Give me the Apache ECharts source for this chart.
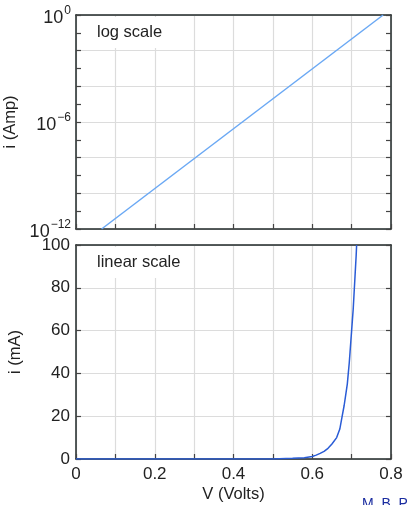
<!DOCTYPE html>
<html>
<head>
<meta charset="utf-8">
<script src="https://cdn.jsdelivr.net/npm/echarts@6/dist/echarts.min.js"></script>
<style>
  html, body { margin: 0; padding: 0; background: #fff; }
  #chart { width: 407px; height: 505px; }
</style>
</head>
<body>
<div id="chart"></div>
<script>
// top panel: log10 of current (Amp) vs voltage
const logV = [0.065, 0.78];
const logI = [-12, 0];

// bottom panel: current in mA vs voltage
const linV = [0, 0.5, 0.55, 0.58, 0.6, 0.61, 0.62, 0.63, 0.64, 0.65, 0.662, 0.67, 0.676, 0.681, 0.685, 0.689, 0.6915, 0.694, 0.696, 0.698, 0.7, 0.702, 0.704, 0.7055, 0.707, 0.7085, 0.71, 0.7115, 0.7127];
const linI = [0, 0.05, 0.3, 0.6, 1.2, 1.8, 2.6, 3.6, 5, 7, 10, 14, 20, 25, 30, 35, 40, 45, 50, 55, 60, 65, 70, 75, 80, 85, 90, 95, 100];

const logTickLabels = [0, -6, -12];
const xTickLabels = [0, 0.2, 0.4, 0.6, 0.8];

const font = 'Liberation Sans, Arial, sans-serif';
const frame = '#1f2727';
const gridColor = '#dcdcdc';

const chart = echarts.init(document.getElementById('chart'));

const tickIn = { show: true, inside: true, length: 5, lineStyle: { color: '#444', width: 1.2 } };
const line = { show: true, onZero: false, lineStyle: { color: frame, width: 1.5 } };

function xAx(gridIndex, showLabels, position) {
  return {
    type: 'value', gridIndex, min: 0, max: 0.8, interval: 0.1, position,
    axisLine: line, axisTick: position === 'top' ? { show: false } : tickIn,
    splitLine: { show: position !== 'top', lineStyle: { color: gridColor, width: 1.2 } },
    axisLabel: {
      show: showLabels, color: '#222', fontSize: 17, fontFamily: font, margin: 7,
      formatter: v => {
        const hit = xTickLabels.find(t => Math.abs(t - v) < 1e-6);
        return hit === undefined ? '' : String(hit);
      }
    },
    name: showLabels ? 'V (Volts)' : '', nameLocation: 'middle', nameGap: 27,
    nameTextStyle: { color: '#222', fontSize: 16.5, fontFamily: font }
  };
}

const option = {
  animation: false,
  grid: [
    { left: 76, top: 15, width: 315, height: 214, outerBoundsMode: 'none', containLabel: false },
    { left: 76, top: 245, width: 315, height: 214, outerBoundsMode: 'none', containLabel: false }
  ],
  xAxis: [
    xAx(0, false, 'bottom'), xAx(0, false, 'top'),
    xAx(1, true, 'bottom'), xAx(1, false, 'top')
  ],
  yAxis: [
    {
      type: 'value', gridIndex: 0, min: -12, max: 0, interval: 2, position: 'left',
      axisLine: line, axisTick: tickIn,
      minorTick: { show: true, splitNumber: 2, length: 5, lineStyle: { color: '#444', width: 1.2 } },
      splitLine: { show: true, lineStyle: { color: gridColor, width: 1.2 } },
      axisLabel: {
        color: '#222', fontFamily: font, margin: 5,
        formatter: v => logTickLabels.includes(v) ? '{b|10}{s|' + (v < 0 ? '\u2212' + (-v) : v) + '}' : '',
        rich: {
          b: { fontSize: 18, fontFamily: font, color: '#222', padding: [7, 0, 0, 0] },
          s: { fontSize: 12, fontFamily: font, color: '#222', padding: [0, 0, 8, 1] }
        }
      },
      name: 'i (Amp)', nameLocation: 'middle', nameGap: 52,
      nameTextStyle: { color: '#222', fontSize: 16.5, fontFamily: font }
    },
    {
      type: 'value', gridIndex: 0, min: -12, max: 0, interval: 1, position: 'right',
      axisLine: line, axisTick: tickIn, splitLine: { show: false }, axisLabel: { show: false }
    },
    {
      type: 'value', gridIndex: 1, min: 0, max: 100, interval: 20, position: 'left',
      axisLine: line, axisTick: tickIn,
      splitLine: { show: true, lineStyle: { color: gridColor, width: 1.2 } },
      axisLabel: { color: '#222', fontSize: 17, fontFamily: font, margin: 6 },
      name: 'i (mA)', nameLocation: 'middle', nameGap: 52,
      nameTextStyle: { color: '#222', fontSize: 16.5, fontFamily: font }
    },
    {
      type: 'value', gridIndex: 1, min: 0, max: 100, interval: 20, position: 'right',
      axisLine: line, axisTick: tickIn, splitLine: { show: false }, axisLabel: { show: false }
    }
  ],
  series: [
    {
      type: 'line', xAxisIndex: 0, yAxisIndex: 0, showSymbol: false,
      data: logV.map((v, i) => [v, logI[i]]),
      lineStyle: { color: '#6aa8f4', width: 1.5 }
    },
    {
      type: 'line', xAxisIndex: 2, yAxisIndex: 2, showSymbol: false,
      data: linV.map((v, i) => [v, linI[i]]),
      lineStyle: { color: '#2a5cd6', width: 1.5 }
    }
  ],
  graphic: [
    {
      type: 'text', left: 89, top: 17, z: 10,
      style: { text: 'log scale', fontSize: 16.5, fontFamily: font, fill: '#222', backgroundColor: '#fff', padding: [7, 8, 7, 8] }
    },
    {
      type: 'text', left: 89, top: 247, z: 10,
      style: { text: 'linear scale', fontSize: 16.5, fontFamily: font, fill: '#222', backgroundColor: '#fff', padding: [7, 8, 7, 8] }
    },
    { type: 'text', left: 362, top: 497, style: { text: 'M. B. Patil', fontSize: 14, fontFamily: font, fill: '#1a2ca0' } }
  ]
};

chart.setOption(option);
</script>
</body>
</html>
